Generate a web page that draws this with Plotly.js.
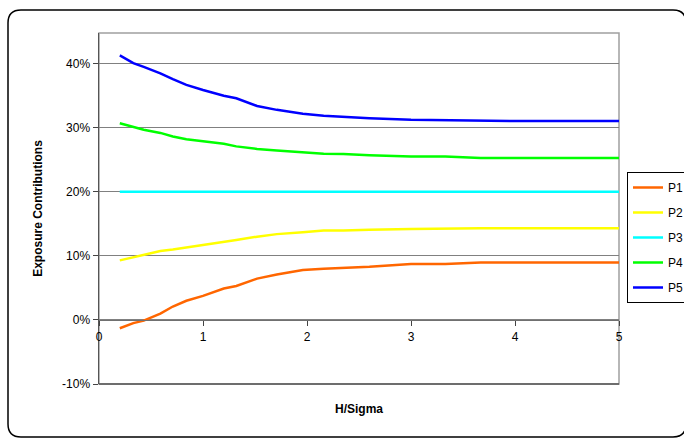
<!DOCTYPE html>
<html>
<head>
<meta charset="utf-8">
<script src="https://cdn.plot.ly/plotly-3.0.1.min.js"></script>
<style>html,body{margin:0;padding:0;background:#fff;overflow:hidden;}#chart{width:684px;height:438px;}</style>
</head>
<body>
<div id="chart"></div>
<script>
// H/Sigma values
const hSigma = [0.2, 0.33, 0.43, 0.59, 0.71, 0.84, 1.0, 1.2, 1.32, 1.52, 1.71, 1.96, 2.16, 2.35, 2.6, 3.0, 3.33, 3.67, 4.0, 5.0];
// Exposure contributions (%)
const p1 = [-1.3, -0.5, -0.1, 1.0, 2.1, 3.0, 3.75, 4.9, 5.3, 6.45, 7.1, 7.8, 8.0, 8.1, 8.3, 8.75, 8.75, 8.95, 8.95, 8.95];
const p2 = [9.3, 9.8, 10.2, 10.75, 11.0, 11.3, 11.7, 12.2, 12.5, 13.0, 13.4, 13.7, 13.95, 13.95, 14.1, 14.2, 14.3, 14.3, 14.3, 14.3];
const p3 = [20, 20, 20, 20, 20, 20, 20, 20, 20, 20, 20, 20, 20, 20, 20, 20, 20, 20, 20, 20];
const p4 = [30.7, 30.1, 29.7, 29.2, 28.65, 28.2, 27.9, 27.5, 27.1, 26.7, 26.45, 26.2, 25.95, 25.9, 25.7, 25.5, 25.5, 25.3, 25.3, 25.3];
const p5 = [41.3, 40.1, 39.5, 38.5, 37.6, 36.7, 35.9, 35.0, 34.6, 33.4, 32.8, 32.2, 31.9, 31.7, 31.5, 31.25, 31.2, 31.05, 31.05, 31.05];
const seriesNames = ['P1', 'P2', 'P3', 'P4', 'P5'];
const seriesColors = ['#ff6600', '#ffff00', '#00ffff', '#00ff00', '#0000ff'];
const yTickVals = [-10, 0, 10, 20, 30, 40];
const yTickText = ['-10%', '0%', '10%', '20%', '30%', '40%'];
const xTickVals = [0, 1, 2, 3, 4, 5];

const seriesData = [p1, p2, p3, p4, p5];
const traces = seriesData.map((ys, i) => ({
  x: hSigma, y: ys, type: 'scatter', mode: 'lines', name: seriesNames[i],
  legendgroup: seriesNames[i],
  line: {color: seriesColors[i], width: 2.5}
}));

// geometry helpers (paper coordinates) for outer rounded frame
const L = 99, R = 619, T = 33, B = 384;
const px = v => (v - L) / (R - L);
const py = v => (B - v) / (B - T);
const fx0 = 8, fy0 = 10, fx1 = 686, fy1 = 437, rad = 13;
const framePath = `M ${px(fx0)},${py(fy0 + rad)} Q ${px(fx0)},${py(fy0)} ${px(fx0 + rad)},${py(fy0)} ` +
  `L ${px(fx1 - rad)},${py(fy0)} Q ${px(fx1)},${py(fy0)} ${px(fx1)},${py(fy0 + rad)} ` +
  `L ${px(fx1)},${py(fy1 - rad)} Q ${px(fx1)},${py(fy1)} ${px(fx1 - rad)},${py(fy1)} ` +
  `L ${px(fx0 + rad)},${py(fy1)} Q ${px(fx0)},${py(fy1)} ${px(fx0)},${py(fy1 - rad)} Z`;

const layout = {
  width: 684, height: 438,
  margin: {l: 99, r: 65, t: 33, b: 54, autoexpand: false},
  paper_bgcolor: '#ffffff', plot_bgcolor: '#ffffff',
  font: {family: 'Liberation Sans, Arial, sans-serif', size: 12, color: '#000'},
  showlegend: true,
  legend: {
    x: px(627), y: 0.604, xanchor: 'left', yanchor: 'top',
    bordercolor: '#000', borderwidth: 1, bgcolor: '#fff',
    traceorder: 'grouped', tracegroupgap: 6,
    font: {size: 12, color: '#000'}
  },
  xaxis: {
    range: [0, 5], tickvals: xTickVals, showgrid: false, zeroline: false,
    anchor: 'free', position: py(320),
    showline: true, linecolor: '#707070', linewidth: 1.2,
    ticks: 'outside', ticklen: 5, tickcolor: '#444',
    tickfont: {size: 12}, automargin: false,
    title: {text: '<b>H/Sigma</b>', font: {size: 12}, standoff: 62}
  },
  yaxis: {
    range: [-10, 44.8], tickvals: yTickVals, ticktext: yTickText,
    showgrid: true, gridcolor: '#808080', gridwidth: 1, zeroline: false,
    showline: true, linecolor: '#555', linewidth: 1.5,
    ticks: 'outside', ticklen: 5, tickcolor: '#444',
    tickfont: {size: 12}, automargin: false,
    title: {text: '<b>Exposure Contributions</b>', font: {size: 12}, standoff: 17}
  },
  shapes: [
    {type: 'path', xref: 'paper', yref: 'paper', path: framePath, line: {color: '#000', width: 1.5}, layer: 'below'},
    {type: 'rect', xref: 'paper', yref: 'paper', x0: 0, x1: 1, y0: 0, y1: 1, line: {color: '#a0a0a0', width: 1.5}, layer: 'below'},
    {type: 'line', xref: 'paper', yref: 'paper', x0: 0, x1: 1, y0: 0, y1: 0, line: {color: '#555', width: 1.5}}
  ]
};

Plotly.newPlot('chart', traces, layout, {displayModeBar: false, staticPlot: true});
</script>
</body>
</html>
